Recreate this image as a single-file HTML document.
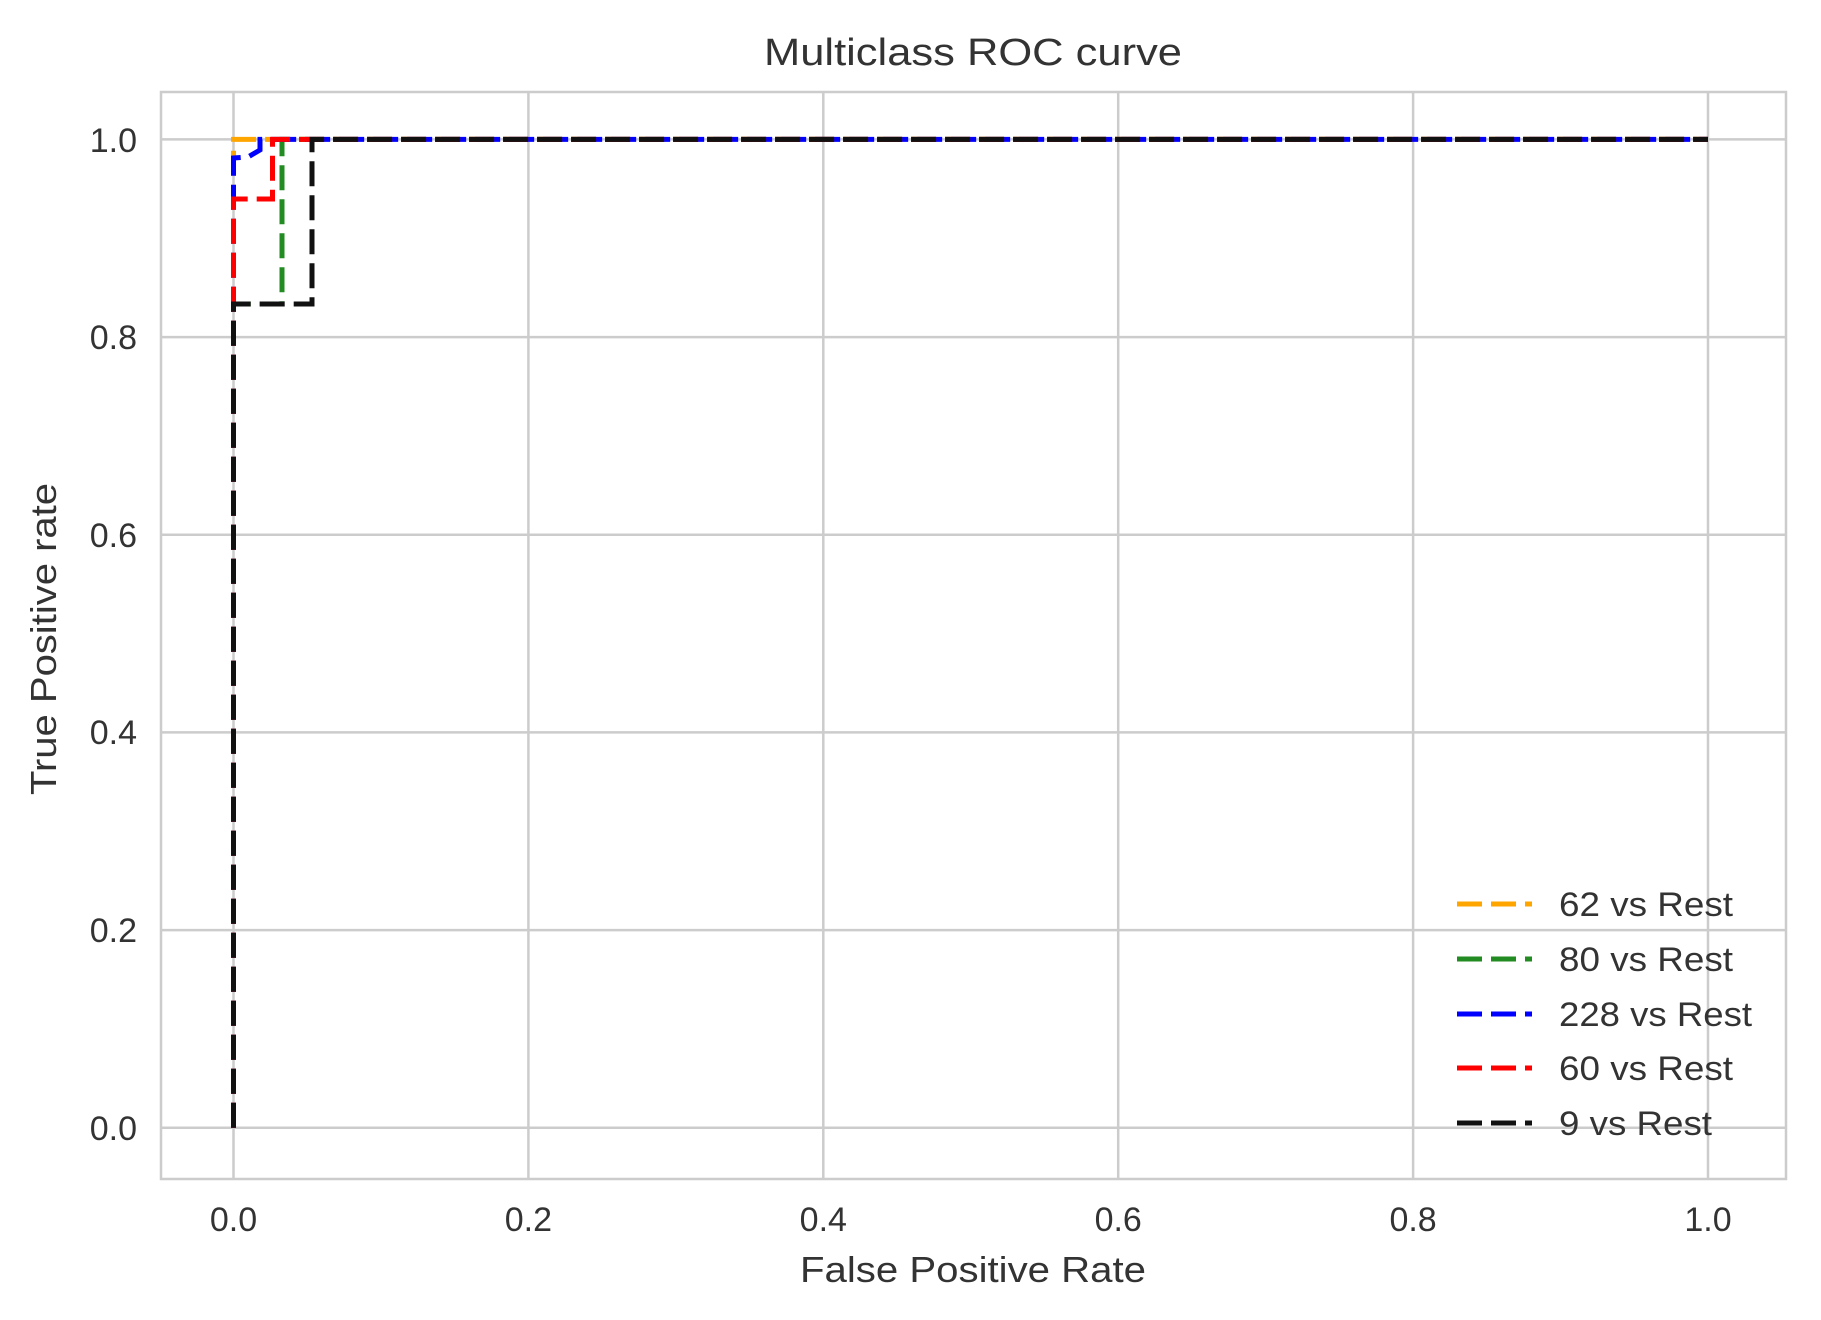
<!DOCTYPE html>
<html><head><meta charset="utf-8"><style>body{margin:0;background:#fff}svg{display:block}</style></head>
<body>
<svg width="1821" height="1320" viewBox="0 0 1821 1320" xmlns="http://www.w3.org/2000/svg" font-family="Liberation Sans, sans-serif" fill="#333">
<rect x="0" y="0" width="1821" height="1320" fill="#fff"/>
<g stroke="#cccccc" stroke-width="2.5">
<line x1="233.5" y1="92" x2="233.5" y2="1179"/>
<line x1="528.4" y1="92" x2="528.4" y2="1179"/>
<line x1="823.3" y1="92" x2="823.3" y2="1179"/>
<line x1="1118.2" y1="92" x2="1118.2" y2="1179"/>
<line x1="1413.1" y1="92" x2="1413.1" y2="1179"/>
<line x1="1708" y1="92" x2="1708" y2="1179"/>
<line x1="161" y1="1127.8" x2="1786" y2="1127.8"/>
<line x1="161" y1="930.1" x2="1786" y2="930.1"/>
<line x1="161" y1="732.4" x2="1786" y2="732.4"/>
<line x1="161" y1="534.8" x2="1786" y2="534.8"/>
<line x1="161" y1="337.1" x2="1786" y2="337.1"/>
<line x1="161" y1="139.4" x2="1786" y2="139.4"/>
<rect x="161" y="92" width="1625" height="1087" fill="none"/>
</g>
<g fill="none" stroke-width="5" stroke-dasharray="25 9">
<polyline stroke="#FFA500" points="233.5,1127.8 233.5,139.4 1708,139.4"/>
<polyline stroke="#228B22" points="233.5,1127.8 233.5,304 282,304 282,139.4 1708,139.4"/>
<polyline stroke="#0000ff" points="233.5,1127.8 233.5,158 248,157 260,150 260,139.4 1708,139.4"/>
<polyline stroke="#ff0000" points="233.5,1127.8 233.5,199 272.5,199 272.5,139.4 1708,139.4"/>
<polyline stroke="#111" points="233.5,1127.8 233.5,304 312,304 312,139.4 1708,139.4"/>
</g>
<g font-size="34" text-anchor="middle">
<text x="233.5" y="1231">0.0</text>
<text x="528.4" y="1231">0.2</text>
<text x="823.3" y="1231">0.4</text>
<text x="1118.2" y="1231">0.6</text>
<text x="1413.1" y="1231">0.8</text>
<text x="1708" y="1231">1.0</text>
</g>
<g font-size="34" text-anchor="end">
<text x="137" y="1140">0.0</text>
<text x="137" y="942">0.2</text>
<text x="137" y="744">0.4</text>
<text x="137" y="547">0.6</text>
<text x="137" y="349">0.8</text>
<text x="137" y="152">1.0</text>
</g>
<text x="973" y="65" font-size="38" text-anchor="middle" textLength="418" lengthAdjust="spacingAndGlyphs">Multiclass ROC curve</text>
<text x="973" y="1282" font-size="36" text-anchor="middle" textLength="346" lengthAdjust="spacingAndGlyphs">False Positive Rate</text>
<text transform="translate(56,639) rotate(-90)" font-size="36" text-anchor="middle" textLength="312" lengthAdjust="spacingAndGlyphs">True Positive rate</text>
<g stroke-width="5" stroke-dasharray="25 9">
<line x1="1457" y1="904" x2="1532" y2="904" stroke="#FFA500"/>
<line x1="1457" y1="959" x2="1532" y2="959" stroke="#228B22"/>
<line x1="1457" y1="1014" x2="1532" y2="1014" stroke="#0000ff"/>
<line x1="1457" y1="1068" x2="1532" y2="1068" stroke="#ff0000"/>
<line x1="1457" y1="1123" x2="1532" y2="1123" stroke="#111"/>
</g>
<g font-size="34">
<text x="1559" y="916" textLength="174" lengthAdjust="spacingAndGlyphs">62 vs Rest</text>
<text x="1559" y="971" textLength="174" lengthAdjust="spacingAndGlyphs">80 vs Rest</text>
<text x="1559" y="1026" textLength="193" lengthAdjust="spacingAndGlyphs">228 vs Rest</text>
<text x="1559" y="1080" textLength="174" lengthAdjust="spacingAndGlyphs">60 vs Rest</text>
<text x="1559" y="1135" textLength="153" lengthAdjust="spacingAndGlyphs">9 vs Rest</text>
</g>
</svg>
</body></html>
